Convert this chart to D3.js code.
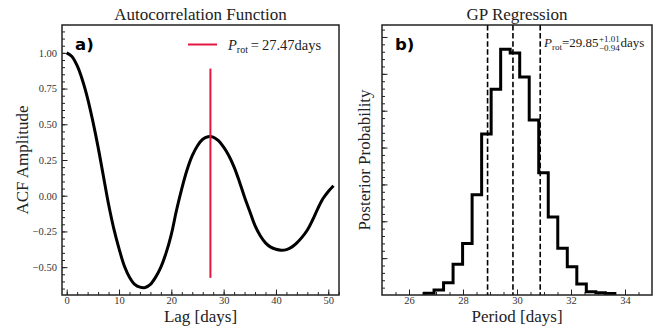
<!DOCTYPE html>
<html>
<head>
<meta charset="utf-8">
<script src="https://cdn.jsdelivr.net/npm/d3@7"></script>
<style>
  body { margin: 0; background: #fff; }
  text { font-family: "Liberation Serif", "Times New Roman", serif; }
</style>
</head>
<body>
<div id="chart"></div>
<script>
// ACF panel data
const acfLag = [0, 1, 2, 3, 4, 5, 6, 7, 8, 9, 10, 11, 12, 13, 14, 15, 16, 17, 18, 19, 20,
  21, 22, 23, 24, 25, 26, 27, 28, 29, 30, 31, 32, 33, 34, 35, 36, 37, 38, 39, 40,
  41, 42, 43, 44, 45, 46, 47, 48, 49, 50, 51];
const acfValue = [1.00, 0.975, 0.91, 0.81, 0.68, 0.52, 0.34, 0.14, -0.06, -0.23, -0.37,
  -0.49, -0.57, -0.62, -0.64, -0.642, -0.62, -0.57, -0.50, -0.40, -0.27,
  -0.10, 0.05, 0.18, 0.28, 0.35, 0.395, 0.413, 0.41, 0.385, 0.34,
  0.28, 0.20, 0.10, -0.01, -0.11, -0.21, -0.28, -0.33, -0.36, -0.375,
  -0.381, -0.377, -0.36, -0.33, -0.29, -0.24, -0.17, -0.09, -0.02, 0.03, 0.07];
const acfPeriod = 27.47;
const acfMarkRange = [-0.575, 0.89];
const acfXTicks = [0, 10, 20, 30, 40, 50];
const acfYTicks = [-0.50, -0.25, 0.00, 0.25, 0.50, 0.75, 1.00];

// GP panel data: step histogram (density) and percentiles
const histRange = [26.575, 33.625];
const histDensity = [0.0028, 0.0081, 0.020, 0.050, 0.084, 0.163, 0.262, 0.335, 0.400, 0.394,
  0.355, 0.285, 0.199, 0.127, 0.076, 0.046, 0.018, 0.0054, 0.0037, 0.0024];
const gpPeriod = 29.85;
const gpErrPlus = 1.01;
const gpErrMinus = 0.94;
const gpXTicks = [26, 28, 30, 32, 34];
const gpYTicks = [0.06, 0.12, 0.18, 0.24, 0.30, 0.36, 0.42];

const width = 668, height = 331;
const svg = d3.select('#chart').append('svg')
  .attr('width', width)
  .attr('height', height);

const frameColor = '#222';
const tickColor = '#333';

function styleAxis(g, size) {
  g.select('.domain').remove();
  g.selectAll('line').attr('stroke', frameColor).attr('stroke-width', 1);
  g.selectAll('text')
    .attr('fill', tickColor)
    .style('font-family', '"Liberation Serif", serif')
    .style('font-size', size + 'px');
}

function minorValues(lo, hi, step) {
  // minor tick positions between the domain ends
  let out = [];
  let start = Math.ceil(lo / step - 1e-9);
  for (let k = start; k * step <= hi + 1e-9; k++) out.push(+(k * step).toFixed(6));
  return out;
}

// ---------- panel a: ACF ----------
const A = { x0: 62, x1: 339, y0: 25, y1: 295 };
const xA = d3.scaleLinear().domain([-0.9, 52.05]).range([A.x0, A.x1]);
const yA = d3.scaleLinear().domain([-0.695, 1.195]).range([A.y1, A.y0]);

const gA = svg.append('g');

gA.append('g')
  .attr('transform', `translate(0,${A.y1})`)
  .call(d3.axisBottom(xA).tickValues(minorValues(0, 52, 2)).tickSize(-3).tickFormat(''))
  .call(g => styleAxis(g, 11));
gA.append('g')
  .attr('transform', `translate(0,${A.y1})`)
  .call(d3.axisBottom(xA).tickValues(acfXTicks).tickSize(-5.5).tickPadding(2).tickFormat(d3.format('d')))
  .call(g => styleAxis(g, 10.5));
gA.append('g')
  .attr('transform', `translate(${A.x0},0)`)
  .call(d3.axisLeft(yA).tickValues(minorValues(-0.69, 1.19, 0.05)).tickSize(-3).tickFormat(''))
  .call(g => styleAxis(g, 11));
gA.append('g')
  .attr('transform', `translate(${A.x0},0)`)
  .call(d3.axisLeft(yA).tickValues(acfYTicks).tickSize(-5.5).tickPadding(5).tickFormat(d3.format('.2f')))
  .call(g => styleAxis(g, 10.5));

const acfLine = d3.line()
  .x((d, i) => xA(acfLag[i]))
  .y(d => yA(d))
  .curve(d3.curveCatmullRom.alpha(0.5));

gA.append('path')
  .datum(acfValue)
  .attr('d', acfLine)
  .attr('fill', 'none')
  .attr('stroke', '#000')
  .attr('stroke-width', 3)
  .attr('stroke-linejoin', 'round');

gA.append('line')
  .attr('x1', xA(acfPeriod)).attr('x2', xA(acfPeriod))
  .attr('y1', yA(acfMarkRange[0])).attr('y2', yA(acfMarkRange[1]))
  .attr('stroke', '#e3163f')
  .attr('stroke-width', 2);

gA.append('rect')
  .attr('x', A.x0).attr('y', A.y0)
  .attr('width', A.x1 - A.x0).attr('height', A.y1 - A.y0)
  .attr('fill', 'none').attr('stroke', frameColor).attr('stroke-width', 1.5);

// legend
gA.append('line')
  .attr('x1', 188).attr('x2', 217).attr('y1', 44.5).attr('y2', 44.5)
  .attr('stroke', '#e3163f').attr('stroke-width', 2);
const legA = gA.append('text').attr('x', 228).attr('y', 50).attr('font-size', 14.5).attr('fill', '#222');
legA.append('tspan').attr('font-style', 'italic').text('P');
legA.append('tspan').attr('font-size', 10).attr('dy', 3).text('rot');
legA.append('tspan').attr('dy', -3).text('\u2009=\u200927.47days');

gA.append('text')
  .attr('x', 75).attr('y', 49.5)
  .attr('font-size', 16.5).attr('font-weight', 'bold')
  .style('font-family', '"DejaVu Sans", sans-serif')
  .text('a)');

gA.append('text')
  .attr('x', (A.x0 + A.x1) / 2).attr('y', 20)
  .attr('text-anchor', 'middle').attr('font-size', 17).attr('fill', '#222')
  .text('Autocorrelation Function');
gA.append('text')
  .attr('x', (A.x0 + A.x1) / 2).attr('y', 322)
  .attr('text-anchor', 'middle').attr('font-size', 17).attr('fill', '#222')
  .text('Lag [days]');
gA.append('text')
  .attr('transform', `translate(27.5,${(A.y0 + A.y1) / 2}) rotate(-90)`)
  .attr('text-anchor', 'middle').attr('font-size', 17).attr('fill', '#222')
  .text('ACF Amplitude');

// ---------- panel b: GP regression ----------
const B = { x0: 382, x1: 652, y0: 25, y1: 295 };
const xB = d3.scaleLinear().domain([25, 35]).range([B.x0, B.x1]);
const yB = d3.scaleLinear().domain([0, 0.4395]).range([B.y1, B.y0]);

const gB = svg.append('g');

gB.append('g')
  .attr('transform', `translate(0,${B.y1})`)
  .call(d3.axisBottom(xB).tickValues(minorValues(25.5, 34.5, 0.5)).tickSize(-3).tickFormat(''))
  .call(g => styleAxis(g, 11));
gB.append('g')
  .attr('transform', `translate(0,${B.y1})`)
  .call(d3.axisBottom(xB).tickValues(gpXTicks).tickSize(-5.5).tickPadding(2).tickFormat(d3.format('d')))
  .call(g => styleAxis(g, 10.5));
gB.append('g')
  .attr('transform', `translate(${B.x0},0)`)
  .call(d3.axisLeft(yB).tickValues(minorValues(0.012, 0.432, 0.012)).tickSize(-3).tickFormat(''))
  .call(g => styleAxis(g, 11));
gB.append('g')
  .attr('transform', `translate(${B.x0},0)`)
  .call(d3.axisLeft(yB).tickValues(gpYTicks).tickSize(-5.5).tickFormat(''))
  .call(g => styleAxis(g, 11));

const binW = (histRange[1] - histRange[0]) / histDensity.length;
let stepPts = [[histRange[0], 0]];
histDensity.forEach((h, i) => {
  stepPts.push([histRange[0] + i * binW, h]);
  stepPts.push([histRange[0] + (i + 1) * binW, h]);
});
stepPts.push([histRange[1], 0]);

gB.append('path')
  .datum(stepPts)
  .attr('d', d3.line().x(d => xB(d[0])).y(d => yB(d[1])))
  .attr('fill', 'none')
  .attr('stroke', '#000')
  .attr('stroke-width', 3)
  .attr('stroke-linejoin', 'miter');

[gpPeriod - gpErrMinus, gpPeriod, gpPeriod + gpErrPlus].forEach(v => {
  gB.append('line')
    .attr('x1', xB(v)).attr('x2', xB(v))
    .attr('y1', B.y0).attr('y2', B.y1)
    .attr('stroke', '#000')
    .attr('stroke-width', 1.6)
    .attr('stroke-dasharray', '5.5,2.6');
});

gB.append('rect')
  .attr('x', B.x0).attr('y', B.y0)
  .attr('width', B.x1 - B.x0).attr('height', B.y1 - B.y0)
  .attr('fill', 'none').attr('stroke', frameColor).attr('stroke-width', 1.5);

// legend text with stacked super/subscript
const legB = gB.append('g').attr('fill', '#222');
const t1 = legB.append('text').attr('x', 544).attr('y', 47).attr('font-size', 13);
t1.append('tspan').attr('font-style', 'italic').text('P');
t1.append('tspan').attr('font-size', 9).attr('dy', 2.5).text('rot');
t1.append('tspan').attr('dy', -2.5).text('=' + gpPeriod.toFixed(2));
const w1 = t1.node().getComputedTextLength();
const sx = 544 + w1 + 0.5;
const sup = legB.append('text').attr('x', sx).attr('y', 41.5).attr('font-size', 9).text('+' + gpErrPlus.toFixed(2));
const sub = legB.append('text').attr('x', sx).attr('y', 50.5).attr('font-size', 9).text('\u2212' + gpErrMinus.toFixed(2));
const ws = Math.max(sup.node().getComputedTextLength(), sub.node().getComputedTextLength());
legB.append('text').attr('x', sx + ws + 0.5).attr('y', 47).attr('font-size', 13).text('days');

gB.append('text')
  .attr('x', 395).attr('y', 49.5)
  .attr('font-size', 16.5).attr('font-weight', 'bold')
  .style('font-family', '"DejaVu Sans", sans-serif')
  .text('b)');

gB.append('text')
  .attr('x', (B.x0 + B.x1) / 2).attr('y', 20)
  .attr('text-anchor', 'middle').attr('font-size', 17).attr('fill', '#222')
  .text('GP Regression');
gB.append('text')
  .attr('x', (B.x0 + B.x1) / 2).attr('y', 322)
  .attr('text-anchor', 'middle').attr('font-size', 17).attr('fill', '#222')
  .text('Period [days]');
gB.append('text')
  .attr('transform', `translate(370,${(B.y0 + B.y1) / 2}) rotate(-90)`)
  .attr('text-anchor', 'middle').attr('font-size', 17).attr('fill', '#222')
  .text('Posterior Probability');
</script>
</body>
</html>
